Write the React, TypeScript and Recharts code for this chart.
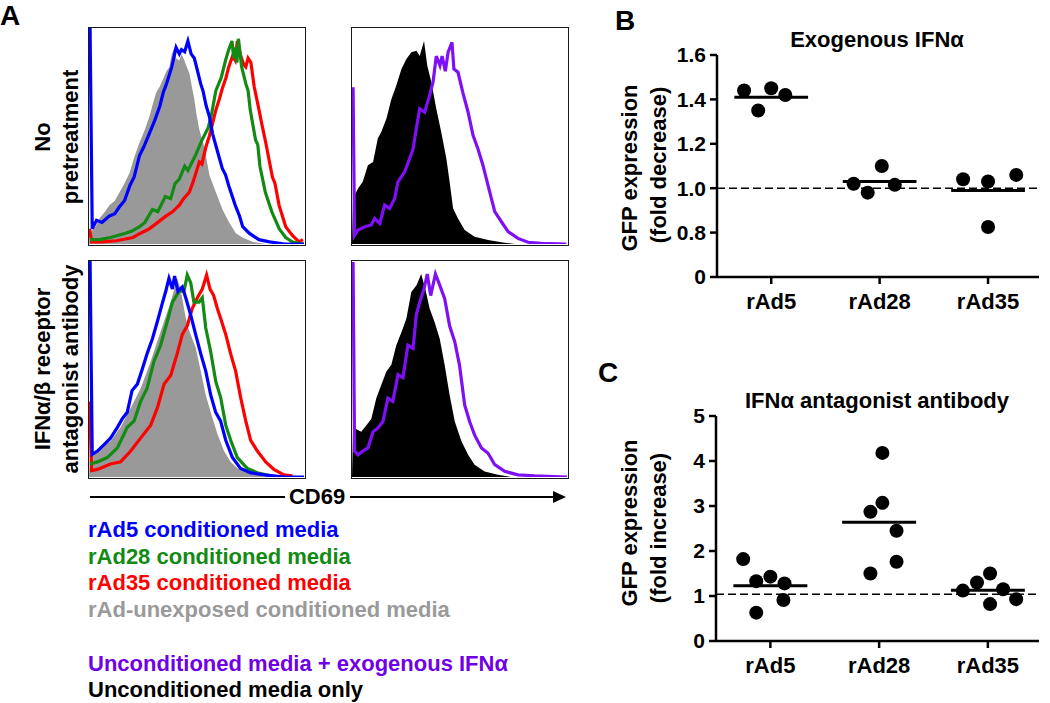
import React from 'react';
import { ComposedChart, Line, Area, XAxis, YAxis, ScatterChart, Scatter, ReferenceLine } from 'recharts';

type Pt = [number, number];

// ---------- Panel A: CD69 histograms, [CD69 channel 0-100, % of max count] ----------
const noPreRAd5: Pt[] = [[0.5,100],[1.5,7],[3.5,11],[6,10],[9.5,13],[12,14],[14,17],[16.5,20],[19,27],[21,31],[23.5,41],[25.5,45],[28,51],[30.5,57],[33,64],[34.5,70],[36,74],[38.5,82],[40.5,91],[42,88],[43,90],[44.5,89],[46,94],[47.5,88],[49,86],[50,82],[52,74],[53,71],[54.5,64],[56,59],[57.5,51],[60,42],[62,35],[63.5,32],[65,27],[68,18],[70,13],[71.5,8],[74.5,5],[79,2],[84,1],[91,0],[100,0]];
const noPreRAd28: Pt[] = [[0.5,2],[5,2],[10,3],[17,5],[20,6],[23.5,8],[26,10],[29.5,16],[32,15],[35.5,22],[38,21],[40,28],[42,30],[44.5,36],[46,34],[49.5,41],[52.5,48],[55.5,54],[57,60],[59,71],[61.5,77],[63.5,85],[65,90],[66.5,94],[67.3,86],[68,91],[68.8,84],[69.5,95],[71,82],[73,74],[74,71],[75,62],[77.5,48],[78.5,46],[79.5,36],[82,24],[85,15],[88.5,7],[91.5,3],[94.5,1],[99,0],[100,0]];
const noPreRAd35: Pt[] = [[0.3,7],[1.2,1],[6,1],[12.7,1.5],[20.4,3],[24,5],[28,7],[32,10],[35.9,13],[39,15],[42,18],[44,21],[46.7,24],[48.5,29],[51.3,38],[52.5,37],[54.4,45],[56,50],[57.5,56],[59,62],[60.6,67],[62,72],[63.7,77],[65,82],[66.8,87],[68,85],[69,94],[70.6,87],[72,83],[72.9,82],[74,86],[75.3,84],[76.8,73],[79.1,62],[80.5,55],[82.2,47],[85.3,31],[86.5,28],[88.4,18],[91.5,8],[94.6,4],[97.7,1],[99.5,2]];
const noPreUnexposed: Pt[] = [[0,0],[0.5,5],[3,8],[5,12],[7.5,15],[9.6,18],[12,20],[14.2,24],[16.5,28],[18.9,33],[21,40],[23.5,47],[26,53],[28.1,59],[30,66],[31.2,70],[33,73],[34.3,76],[36,80],[37.4,82],[38.5,88],[39.7,91],[40.5,86],[42,85],[43,88],[44.4,85],[45.5,82],[46.7,79],[48,72],[49,67],[50,60],[51.3,53],[53.6,45],[56,32],[59,24],[62.1,16],[65.2,10],[68.3,5],[71.4,3],[76,1],[82,0],[100,0]];

const antiRAd5: Pt[] = [[0.5,100],[1.5,10.5],[3.9,12],[7,15],[10,18],[13.2,23],[15.5,27],[17.8,30],[20,40],[22.5,43],[24.8,50],[27,57],[29.5,64],[31.8,72],[34,80],[35.7,86],[37.2,92],[38.8,87],[39.8,93],[41.4,86],[43.4,88],[45,83],[47.3,75],[49.6,66],[52,57],[54.3,49],[56.6,38],[58.9,30],[61.2,26],[63.6,17],[66.7,9],[70.5,4],[75,2],[81.4,1],[90.7,0],[100,0]];
const antiRAd28: Pt[] = [[0.5,6],[3.9,7],[8.5,9],[13.2,13.5],[17.8,23],[21,26],[24,35],[27,41],[30.2,53.5],[33.3,61],[36.4,72],[38.8,81],[41.9,86],[44.2,86],[45.7,93.5],[47.3,90],[48.8,81],[51.2,81],[52.7,83],[54.3,69],[56.6,58],[59,44],[61.2,37],[63.6,24],[65.9,17],[69,9],[73.6,4],[78.3,2],[84.5,0.5],[90,0]];
const antiRAd35: Pt[] = [[0.3,35],[1.2,3],[3.9,3.5],[10,6],[14.7,7],[19.4,12],[24,18],[28.7,24],[31.8,32],[34.9,43],[38,47],[41,57],[43.4,66],[45.7,70],[48,78],[50.4,83],[52.7,87],[54.7,93.5],[56.3,87],[58,84],[59.7,78],[61.2,73.5],[63.6,66],[65.9,57],[68.2,49],[70.5,37],[72.9,26],[75.2,17],[78.3,12],[82.2,7],[86,3.5],[90.7,1],[94.6,0.5]];
const antiUnexposed: Pt[] = [[0,0],[0.5,10],[5.4,13.5],[10,16.5],[14.7,23],[19.4,32],[24,41],[28.7,53.5],[31.8,63],[34.9,72],[38,81],[41,92],[42.6,87],[44.2,78],[45.7,70],[47.3,66],[49.6,60],[52,49],[54.3,38],[56.6,30],[59.7,20],[62.8,12],[65.9,7],[69,4],[73.6,2],[80,0.5],[85,0],[100,0]];

const noPreMediaOnly: Pt[] = [[0,0],[0.5,22.6],[1.2,22.6],[2.8,25.7],[5,28.8],[7.4,36.5],[9.8,38],[12,48.8],[13.6,51.8],[16,58],[18.3,67],[20.6,73.4],[23,81],[25.3,85.7],[27.6,88.8],[30,89.5],[31.5,87],[33.5,94],[35,82.6],[36.9,75],[39.2,62.6],[41.5,51.8],[43.9,39.5],[45.4,28.8],[47,16.5],[49.3,11.8],[52.4,6.5],[57,3.4],[63.3,1.8],[69.5,0.8],[75.7,0],[100,0]];
const noPreIFN: Pt[] = [[0.5,72.6],[1.2,4],[2.8,6.5],[5.9,8],[9,8.8],[10.5,11.8],[12.9,9.5],[15.2,18],[17.5,16.5],[19.8,21],[21.4,28.8],[24.5,33.4],[26.8,39.5],[28.4,44],[29.9,53.4],[31.5,62.6],[33.8,61],[36.1,68.8],[37.7,75],[39.2,87],[40.9,82.6],[41.9,87],[43.4,80],[44.7,88.8],[46.5,93.4],[47.4,81],[49.3,79.5],[51.6,70],[54,61],[56.3,50.3],[58.6,44],[60.9,36.5],[63.3,27],[66.4,15],[69.5,10.3],[72.6,5.7],[77.2,2.6],[81.9,0.8],[88,0.3],[99.7,0]];
const antiMediaOnly: Pt[] = [[0,0],[0.5,22.6],[1.2,22.6],[4.3,21],[6.7,24],[9,27],[11.3,36.5],[13.6,42.6],[16,48.8],[18.3,52],[20.6,61],[23,67],[25.3,73.4],[27.6,85.7],[30,88.8],[32.2,94],[34.1,87],[36.1,78],[38.4,71.8],[40.8,64],[43.1,51.8],[45.4,38],[47.8,25.7],[50.9,16.5],[54,10.3],[57,5.7],[61.7,2.6],[67.9,1],[74,0],[100,0]];
const antiIFN: Pt[] = [[0.5,99.5],[1.2,12],[2.8,10.3],[5,12],[7.4,13.5],[9.8,21],[12,22.6],[14.4,25.7],[16.7,36.5],[19,35],[21.4,47.4],[23.7,46],[26,61],[28.4,59.5],[29.9,75],[31.5,81],[33.5,87],[35,94],[36.6,84],[38.8,94],[40.8,88.8],[43.1,82.6],[45.4,70],[47.8,62.6],[50,51.8],[52.4,33.4],[54.7,25.7],[57,19.5],[60.2,13.4],[63.3,11],[66.4,5.7],[71,2.6],[77.2,1],[85,0.5],[100,0]];

const rowLabelsTop = ['No', 'pretreatment'];
const rowLabelsBottom = ['IFNα/β receptor', 'antagonist antibody'];
const axisLabelA = 'CD69';

const legendLines = [
  { text: 'rAd5 conditioned media', color: '#0000ff' },
  { text: 'rAd28 conditioned media', color: '#138a13' },
  { text: 'rAd35 conditioned media', color: '#ff0000' },
  { text: 'rAd-unexposed conditioned media', color: '#9a9a9a' },
  { text: '', color: '#000' },
  { text: 'Unconditioned media + exogenous IFNα', color: '#7000e6' },
  { text: 'Unconditioned media only', color: '#000000' },
];

// ---------- Panels B and C: dot plots ----------
const categories = ['rAd5', 'rAd28', 'rAd35'];
const categoryPositions = [1, 2, 3];

const exoTitle = 'Exogenous IFNα';
const exoYLabel = ['GFP expression', '(fold decrease)'];
const exoTickValues = [0.6, 0.8, 1.0, 1.2, 1.4, 1.6];
const exoTickLabels = ['0', '0.8', '1.0', '1.2', '1.4', '1.6'];
// [jittered group position, value]
const exoPoints: Pt[] = [[0.75,1.44],[0.88,1.35],[1.0,1.45],[1.13,1.42],[1.76,1.02],[1.89,0.98],[2.02,1.10],[2.14,1.015],[2.77,1.04],[3.0,1.03],[3.0,0.825],[3.26,1.06]];
const exoMeans = [1.41, 1.03, 0.99];
const exoReference = 1.0;

const antiTitle = 'IFNα antagonist antibody';
const antiYLabel = ['GFP expression', '(fold increase)'];
const antiTickValues = [0, 1, 2, 3, 4, 5];
const antiPoints: Pt[] = [[0.75,1.82],[0.87,1.33],[1.0,1.43],[1.13,1.28],[1.12,0.91],[0.87,0.63],[2.03,4.18],[1.92,2.87],[2.03,3.07],[2.16,2.45],[2.16,1.76],[1.92,1.50],[2.77,1.12],[2.9,1.30],[3.02,1.50],[3.14,1.15],[3.02,0.82],[3.26,0.93]];
const antiMeans = [1.23, 2.64, 1.13];
const antiReference = 1.04;

const FONT = '"Liberation Sans", Arial, Helvetica, sans-serif';
const toObj = (pts: Pt[]) => pts.map(([x, v]) => ({ x, v }));
const toXY = (pts: Pt[]) => pts.map(([x, y]) => ({ x, y }));

type Curve = { pts: Pt[]; color: string };

function Histo({ left, top, fills, lines }: { left: number; top: number; fills: Curve[]; lines: Curve[] }) {
  return (
    <div style={{ position: 'absolute', left, top, width: 218, height: 219, border: '1.6px solid #1a1a1a', boxSizing: 'border-box', background: '#fff' }}>
      <ComposedChart width={215} height={216} margin={{ top: 0, right: 0, bottom: 0, left: 0 }}>
        <XAxis type="number" dataKey="x" domain={[0, 100]} hide allowDataOverflow />
        <YAxis type="number" domain={[0, 100]} hide allowDataOverflow />
        {fills.map((f, i) => (
          <Area key={'f' + i} data={toObj(f.pts)} dataKey="v" type="linear" fill={f.color} fillOpacity={1} stroke="none" isAnimationActive={false} />
        ))}
        {lines.map((l, i) => (
          <Line key={'l' + i} data={toObj(l.pts)} dataKey="v" type="linear" stroke={l.color} strokeWidth={3.2} strokeLinejoin="miter" dot={false} isAnimationActive={false} />
        ))}
      </ComposedChart>
    </div>
  );
}

const dotShape = (props: any) => <circle cx={props.cx} cy={props.cy} r={7} fill="#000" />;

function DotPlot({ left, top, width, height, margin, points, means, reference, domain, ticks, tickLabels }: any) {
  const fmtY = (v: number) => {
    const i = ticks.findIndex((t: number) => Math.abs(t - v) < 1e-9);
    return i >= 0 && tickLabels ? tickLabels[i] : String(v);
  };
  return (
    <div style={{ position: 'absolute', left, top }}>
      <ScatterChart width={width} height={height} margin={margin}>
        <XAxis
          type="number" dataKey="x" domain={[0.5, 3.47]} ticks={categoryPositions} interval={0} allowDataOverflow
          tickFormatter={(v: number) => categories[Math.round(v) - 1]}
          tick={{ fontSize: 22, fontWeight: 'bold', fill: '#000', fontFamily: FONT }}
          tickSize={7} tickMargin={9} height={40}
          axisLine={{ stroke: '#000', strokeWidth: 2.5 }} tickLine={{ stroke: '#000', strokeWidth: 2.5 }}
        />
        <YAxis
          type="number" dataKey="y" domain={domain} ticks={ticks} interval={0} allowDataOverflow
          tickFormatter={fmtY}
          tick={{ fontSize: 21, fontWeight: 'bold', fill: '#000', fontFamily: FONT }}
          tickSize={7} tickMargin={4} width={60}
          axisLine={{ stroke: '#000', strokeWidth: 2.5 }} tickLine={{ stroke: '#000', strokeWidth: 2.5 }}
        />
        <ReferenceLine y={reference} stroke="#000" strokeWidth={1.6} strokeDasharray="8 4" />
        {means.map((m: number, i: number) => (
          <ReferenceLine key={i} segment={[{ x: categoryPositions[i] - 0.34, y: m }, { x: categoryPositions[i] + 0.34, y: m }]} stroke="#000" strokeWidth={3} />
        ))}
        <Scatter data={toXY(points)} shape={dotShape} isAnimationActive={false} />
      </ScatterChart>
    </div>
  );
}

export default function App() {
  const t = { fontFamily: FONT, fontWeight: 'bold' as const };
  return (
    <div style={{ position: 'absolute', left: 0, top: 0, width: 1050, height: 703, background: '#fff', overflow: 'hidden' }}>
      <Histo left={88} top={27} fills={[{ pts: noPreUnexposed, color: '#999999' }]}
        lines={[{ pts: noPreRAd35, color: '#ff0000' }, { pts: noPreRAd28, color: '#138a13' }, { pts: noPreRAd5, color: '#0000ff' }]} />
      <Histo left={88} top={260} fills={[{ pts: antiUnexposed, color: '#999999' }]}
        lines={[{ pts: antiRAd35, color: '#ff0000' }, { pts: antiRAd28, color: '#138a13' }, { pts: antiRAd5, color: '#0000ff' }]} />
      <Histo left={351} top={27} fills={[{ pts: noPreMediaOnly, color: '#000000' }]} lines={[{ pts: noPreIFN, color: '#7f10f5' }]} />
      <Histo left={351} top={260} fills={[{ pts: antiMediaOnly, color: '#000000' }]} lines={[{ pts: antiIFN, color: '#7f10f5' }]} />

      <DotPlot left={600} top={40} width={450} height={300} margin={{ top: 15, right: 11, bottom: 23, left: 57 }}
        points={exoPoints} means={exoMeans} reference={exoReference} domain={[0.6, 1.6]} ticks={exoTickValues} tickLabels={exoTickLabels} />
      <DotPlot left={600} top={400} width={450} height={290} margin={{ top: 16, right: 11, bottom: 9, left: 56 }}
        points={antiPoints} means={antiMeans} reference={antiReference} domain={[0, 5]} ticks={antiTickValues} tickLabels={null} />

      <svg width={1050} height={703} style={{ position: 'absolute', left: 0, top: 0, pointerEvents: 'none' }}>
        <g style={t}>
          <text x={0} y={25} fontSize={28} fill="#000">A</text>
          <text x={615} y={30} fontSize={28} fill="#000">B</text>
          <text x={598} y={382} fontSize={28} fill="#000">C</text>

          <text transform="translate(50,137) rotate(-90)" textAnchor="middle" fontSize={22} fill="#000">{rowLabelsTop[0]}</text>
          <text transform="translate(78,137) rotate(-90)" textAnchor="middle" fontSize={22} fill="#000">{rowLabelsTop[1]}</text>
          <text transform="translate(50,369) rotate(-90)" textAnchor="middle" fontSize={22} fill="#000">{rowLabelsBottom[0]}</text>
          <text transform="translate(78,369) rotate(-90)" textAnchor="middle" fontSize={22} fill="#000">{rowLabelsBottom[1]}</text>

          <line x1={90} y1={497} x2={285} y2={497} stroke="#000" strokeWidth={2.2} />
          <line x1={350} y1={497} x2={555} y2={497} stroke="#000" strokeWidth={2.2} />
          <polygon points="553,491 566,497 553,503" fill="#000" />
          <text x={317} y={504} textAnchor="middle" fontSize={22} fill="#000">{axisLabelA}</text>

          {legendLines.map((l, i) => (
            <text key={i} x={88} y={537 + i * 26.7} fontSize={22} fill={l.color}>{l.text}</text>
          ))}

          <text x={877} y={47} textAnchor="middle" fontSize={22} fill="#000">{exoTitle}</text>
          <text transform="translate(637,168) rotate(-90)" textAnchor="middle" fontSize={22} fill="#000">{exoYLabel[0]}</text>
          <text transform="translate(666,165) rotate(-90)" textAnchor="middle" fontSize={22} fill="#000">{exoYLabel[1]}</text>

          <text x={877} y={408} textAnchor="middle" fontSize={22} fill="#000">{antiTitle}</text>
          <text transform="translate(637,523) rotate(-90)" textAnchor="middle" fontSize={22} fill="#000">{antiYLabel[0]}</text>
          <text transform="translate(666,528) rotate(-90)" textAnchor="middle" fontSize={22} fill="#000">{antiYLabel[1]}</text>
        </g>
      </svg>
    </div>
  );
}
